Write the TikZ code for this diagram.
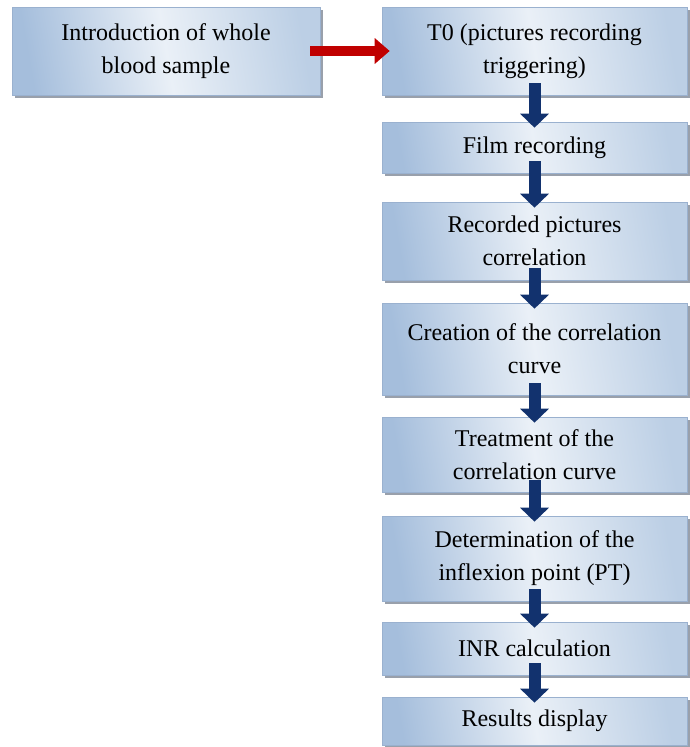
\documentclass[tikz,border=0pt]{standalone}
\usepackage{fontspec}
\setmainfont{Liberation Serif}
\usetikzlibrary{arrows.meta, shadows}
\definecolor{fcDeep}{HTML}{A5BEDC}
\definecolor{fcMid}{HTML}{BCCFE5}
\definecolor{fcWash}{HTML}{EAF0F7}
\definecolor{fcEdge}{HTML}{9AB1CF}
\definecolor{fcNavy}{HTML}{12326E}
\definecolor{fcRed}{HTML}{C00000}
\definecolor{fcShade}{HTML}{7F8896}

\begin{document}
\begin{tikzpicture}[
    x=1pt, y=-1pt,
    box/.style={draw=fcEdge, line width=0.6pt, left color=fcDeep, right color=fcMid,
                middle color=fcWash, shading angle=100, minimum width=305pt,
                align=center, inner sep=0pt, font=\fontsize{24}{33}\selectfont,
                drop shadow={shadow xshift=2.5pt, shadow yshift=-2.5pt, fill=fcShade, opacity=0.8}},
    fw/.style={line width=12pt, draw=fcNavy, -{Triangle[width=28pt, length=14pt]},
               shorten <=-12pt, shorten >=-6pt},
    feed/.style={line width=10pt, draw=fcRed, -{Triangle[width=25pt, length=15pt]},
                 shorten <=-10pt, shorten >=-8pt},
  ]
  \useasboundingbox (0,0) rectangle (690,747);

  \node[box, minimum width=308pt, minimum height=88pt] (intro) at (166,51)
    {Introduction of whole\\blood sample};

  \node[box, minimum height=88pt] (t0)     at (534.5,51)    {T0 (pictures recording\\triggering)};
  \node[box, minimum height=51pt] (film)   at (534.5,147.5) {Film recording};
  \node[box, minimum height=78pt] (corr)   at (534.5,241)   {Recorded pictures\\correlation};
  \node[box, minimum height=92pt] (curve)  at (534.5,349)   {Creation of the correlation\\curve};
  \node[box, minimum height=75pt] (treat)  at (534.5,454.5) {Treatment of the\\correlation curve};
  \node[box, minimum height=85pt] (inflex) at (534.5,558.5) {Determination of the\\inflexion point (PT)};
  \node[box, minimum height=53pt] (inr)    at (534.5,648.5) {INR calculation};
  \node[box, minimum height=48pt] (disp)   at (534.5,721)   {Results display};

  \draw[feed] (intro.east) -- (t0.west);

  \draw[fw] (t0.south)     -- (film.north);
  \draw[fw] (film.south)   -- (corr.north);
  \draw[fw] (corr.south)   -- (curve.north);
  \draw[fw] (curve.south)  -- (treat.north);
  \draw[fw] (treat.south)  -- (inflex.north);
  \draw[fw] (inflex.south) -- (inr.north);
  \draw[fw] (inr.south)    -- (disp.north);
\end{tikzpicture}
\end{document}
